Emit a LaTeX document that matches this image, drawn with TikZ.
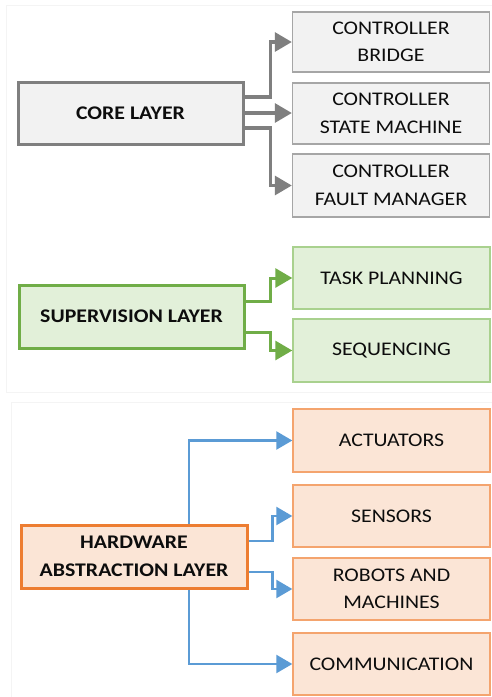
\documentclass[tikz,border=0pt]{standalone}
\usepackage{fontspec}
\setmainfont{Carlito}[FakeStretch=1.13]
\usetikzlibrary{arrows.meta}

\definecolor{txt}{HTML}{0D0D0D}
\definecolor{panelline}{HTML}{F4F4F4}
\definecolor{grayline}{HTML}{7F7F7F}
\definecolor{grayfill}{HTML}{F2F2F2}
\definecolor{grayedge}{HTML}{A6A6A6}
\definecolor{greenline}{HTML}{70AD47}
\definecolor{greenfill}{HTML}{E2F0D9}
\definecolor{greenedge}{HTML}{A9D18E}
\definecolor{blueline}{HTML}{5B9BD5}
\definecolor{orangefill}{HTML}{FBE5D6}
\definecolor{orangeedge}{HTML}{F4A46E}
\definecolor{orangeline}{HTML}{ED7D31}

\tikzset{
  box/.style={rectangle, inner sep=0pt, align=center, text=txt,
    font=\fontsize{19.3}{27.5}\selectfont},
  layerbox/.style={box, minimum width=225pt, minimum height=62pt,
    line width=3pt, font=\fontsize{19.3}{27.5}\selectfont\bfseries},
  itembox/.style={box, minimum width=197pt, minimum height=62pt, line width=1.4pt},
  graylayer/.style={layerbox, draw=grayline, fill=grayfill},
  grayitem/.style={itembox, draw=grayedge, fill=grayfill},
  greenlayer/.style={layerbox, draw=greenline, fill=greenfill},
  greenitem/.style={itembox, draw=greenedge, fill=greenfill},
  orangelayer/.style={layerbox, draw=orangeline, fill=orangefill},
  orangeitem/.style={itembox, draw=orangeedge, fill=orangefill},
  graylink/.style={-{Triangle[length=17pt,width=19pt]}, draw=grayline, line width=3.2pt},
  greenlink/.style={-{Triangle[length=17pt,width=19pt]}, draw=greenline, line width=3pt},
  bluelink/.style={-{Triangle[length=16pt,width=18pt]}, draw=blueline, line width=2.4pt},
  panel/.style={draw=panelline, line width=0.8pt},
}

\begin{document}
\begin{tikzpicture}[x=1pt, y=-1pt]
  \useasboundingbox (0,0) rectangle (492,697);
  \fill[white] (0,0) rectangle (492,697);

  % faint background panels
  \draw[panel] (6,5) rectangle (500,392);
  \draw[panel] (11,402) rectangle (500,710);

  % core layer
  \node[graylayer] (core) at (130.5,113) {CORE LAYER};
  \node[grayitem, minimum height=60pt] (bridge) at (391,42) {CONTROLLER\\BRIDGE};
  \node[grayitem, minimum height=61pt] (statem) at (391,113.5) {CONTROLLER\\STATE MACHINE};
  \node[grayitem, minimum height=63pt] (fault) at (391,185.5) {CONTROLLER\\FAULT MANAGER};

  \draw[graylink] ([yshift=16pt]core.east) -- ++(26,0) |- (bridge.west);
  \draw[graylink] (core.east) -- (core.east -| statem.west);
  \draw[graylink] ([yshift=-15pt]core.east) -- ++(26,0) |- (fault.west);

  % supervision layer
  \node[greenlayer, minimum height=63pt] (super) at (131.5,316.5) {SUPERVISION LAYER};
  \node[greenitem] (task) at (391.5,278) {TASK PLANNING};
  \node[greenitem, minimum height=63pt] (seq) at (391.5,350.5) {SEQUENCING};

  \draw[greenlink] ([yshift=15.5pt]super.east) -- ++(25,0) |- (task.west);
  \draw[greenlink] ([yshift=-15.5pt]super.east) -- ++(25,0) |- (seq.west);

  % hardware abstraction layer
  \node[orangelayer, minimum width=226pt, minimum height=63pt] (hal) at (134,556.5) {HARDWARE\\ABSTRACTION LAYER};
  \node[orangeitem, minimum height=63pt] (act) at (391.5,440.5) {ACTUATORS};
  \node[orangeitem] (sens) at (391.5,516) {SENSORS};
  \node[orangeitem] (robots) at (391.5,589) {ROBOTS AND\\MACHINES};
  \node[orangeitem] (comm) at (391.5,664) {COMMUNICATION};

  \draw[bluelink] ([xshift=55pt]hal.north) |- (act.west);
  \draw[bluelink] ([yshift=15.5pt]hal.east) -- ++(24,0) |- (sens.west);
  \draw[bluelink] ([yshift=-15.5pt]hal.east) -- ++(24,0) |- (robots.west);
  \draw[bluelink] ([xshift=55pt]hal.south) |- (comm.west);
\end{tikzpicture}
\end{document}
